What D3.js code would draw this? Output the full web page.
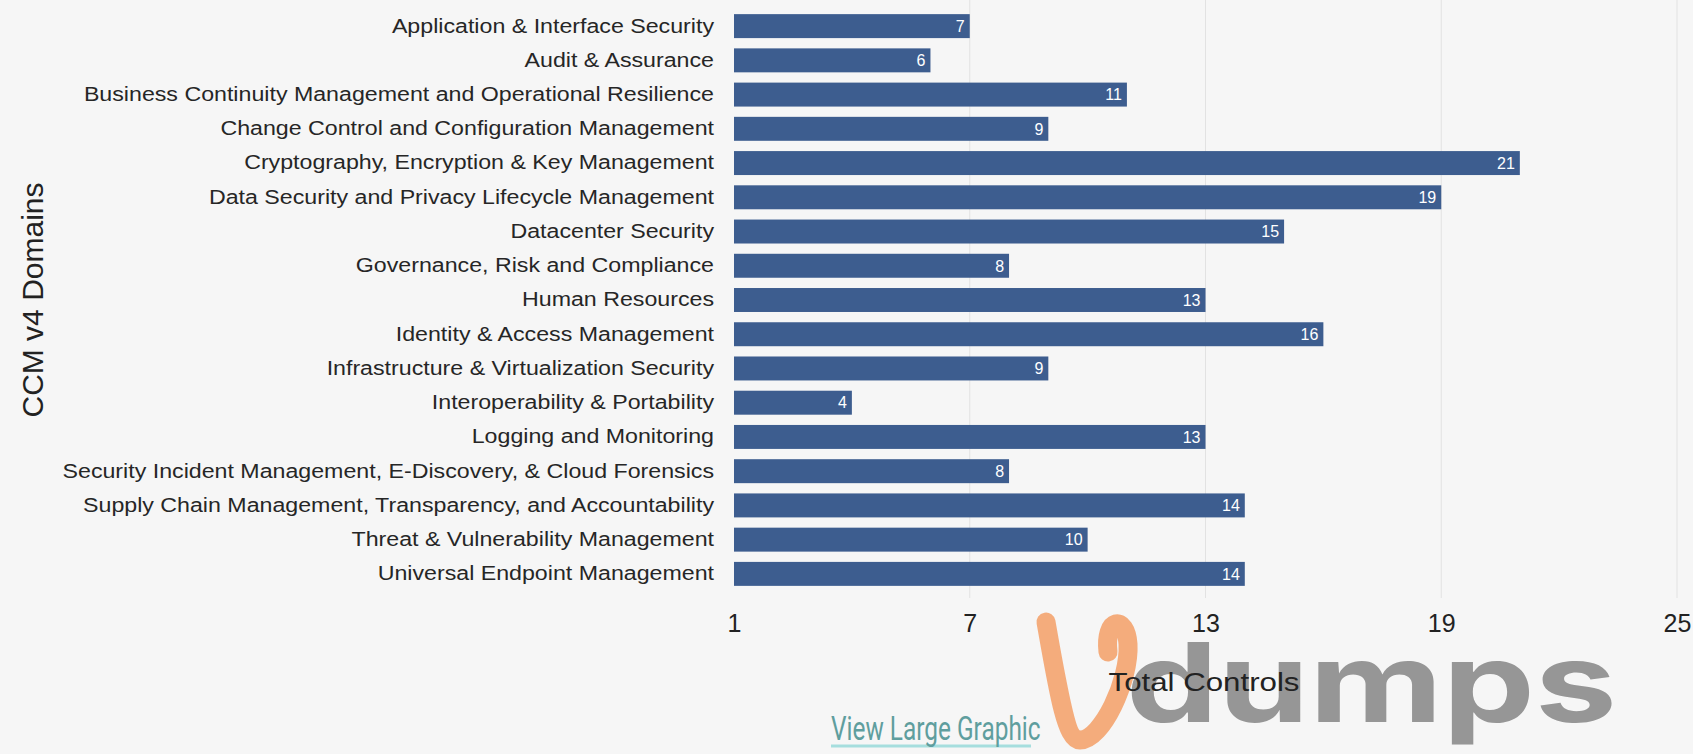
<!DOCTYPE html>
<html>
<head>
<meta charset="utf-8">
<script src="https://cdn.jsdelivr.net/npm/d3@7"></script>
<style>
  body { margin: 0; background: #f6f6f6; }
  svg { display: block; font-family: "Liberation Sans", Arial, sans-serif; }
</style>
</head>
<body>
<div id="chart"></div>
<script>
// CCM v4 domains and number of controls per domain
var domains = [
  "Application & Interface Security",
  "Audit & Assurance",
  "Business Continuity Management and Operational Resilience",
  "Change Control and Configuration Management",
  "Cryptography, Encryption & Key Management",
  "Data Security and Privacy Lifecycle Management",
  "Datacenter Security",
  "Governance, Risk and Compliance",
  "Human Resources",
  "Identity & Access Management",
  "Infrastructure & Virtualization Security",
  "Interoperability & Portability",
  "Logging and Monitoring",
  "Security Incident Management, E-Discovery, & Cloud Forensics",
  "Supply Chain Management, Transparency, and Accountability",
  "Threat & Vulnerability Management",
  "Universal Endpoint Management"
];
var totals = [7, 6, 11, 9, 21, 19, 15, 8, 13, 16, 9, 4, 13, 8, 14, 10, 14];
var xTicks = [1, 7, 13, 19, 25];

var svgWidth = 1693;
var svgHeight = 754;

var svg = d3.select("#chart")
  .append("svg")
  .attr("width", svgWidth)
  .attr("height", svgHeight);

var data = domains.map(function(d, i) { return { name: d, total: totals[i] }; });

// scales
var x = d3.scaleLinear()
  .domain([1, 25])
  .range([734, 1677]);

var y = d3.scaleBand()
  .domain(domains)
  .range([9, 591])
  .paddingInner(0.3)
  .paddingOuter(0.15);

// faint vertical gridlines
svg.append("g")
  .selectAll("line")
  .data(xTicks.slice(1))
  .enter()
  .append("line")
  .attr("x1", d => x(d))
  .attr("x2", d => x(d))
  .attr("y1", 0)
  .attr("y2", 598)
  .attr("stroke", "#e2e2e2")
  .attr("stroke-width", 1);

// bars
svg.append("g")
  .selectAll("rect")
  .data(data)
  .enter()
  .append("rect")
  .attr("x", x(1))
  .attr("y", d => y(d.name))
  .attr("width", d => x(d.total) - x(1))
  .attr("height", y.bandwidth())
  .attr("fill", "#3d5d8f");

// value labels inside the bar ends
svg.append("g")
  .selectAll("text")
  .data(data)
  .enter()
  .append("text")
  .attr("x", d => x(d.total) - 5)
  .attr("y", d => y(d.name) + y.bandwidth() / 2)
  .attr("dy", "0.36em")
  .attr("text-anchor", "end")
  .attr("font-size", "16px")
  .attr("fill", "#ffffff")
  .text(d => d.total);

// category labels (stretched like the source)
var yAxis = d3.axisLeft(y).tickSize(0).tickPadding(0);
var yAxisG = svg.append("g")
  .attr("transform", "translate(714,0)")
  .call(yAxis);
yAxisG.select(".domain").remove();
yAxisG.selectAll("text")
  .attr("x", 0)
  .attr("font-size", "20px")
  .attr("font-family", "Liberation Sans, Arial, sans-serif")
  .attr("fill", "#262626")
  .attr("transform", "scale(1.16,1)");

// x axis tick labels
var xAxis = d3.axisBottom(x).tickValues(xTicks).tickSize(0).tickPadding(0);
var xAxisG = svg.append("g")
  .attr("transform", "translate(0,614)")
  .call(xAxis);
xAxisG.select(".domain").remove();
xAxisG.selectAll("text")
  .attr("font-size", "25px")
  .attr("font-family", "Liberation Sans, Arial, sans-serif")
  .attr("fill", "#222");

// watermark
svg.append("text")
  .attr("transform", "translate(1126,722) scale(1.33,1)")
  .attr("font-family", "Inter, Lato, sans-serif")
  .attr("font-weight", 700)
  .attr("font-size", "110px")
  .attr("fill", "#8c8c8c")
  .attr("opacity", 0.9)
  .text("dumps");

svg.append("path")
  .attr("d", "M1046,622 C1058,690 1066,740 1080,740 C1102,740 1130,680 1128,644 C1126,614 1104,618 1108,652")
  .attr("fill", "none")
  .attr("stroke", "#f4a26b")
  .attr("stroke-width", 19)
  .attr("stroke-linecap", "round")
  .attr("opacity", 0.88);

// axis titles
svg.append("text")
  .attr("transform", "translate(1204,691) scale(1.25,1)")
  .attr("text-anchor", "middle")
  .attr("font-size", "25px")
  .attr("fill", "#222")
  .text("Total Controls");

svg.append("text")
  .attr("transform", "translate(43,300) rotate(-90)")
  .attr("text-anchor", "middle")
  .attr("font-size", "30px")
  .attr("fill", "#222")
  .text("CCM v4 Domains");

// link below the chart
var link = svg.append("g").attr("transform", "translate(831,740)");
link.append("line")
  .attr("x1", 0).attr("x2", 200)
  .attr("y1", 6).attr("y2", 6)
  .attr("stroke", "#a6dede")
  .attr("stroke-width", 3);
link.append("text")
  .attr("transform", "scale(0.74,1)")
  .attr("font-family", "Roboto, sans-serif")
  .attr("font-size", "33px")
  .attr("fill", "#5f9e9e")
  .text("View Large Graphic");
</script>
</body>
</html>
